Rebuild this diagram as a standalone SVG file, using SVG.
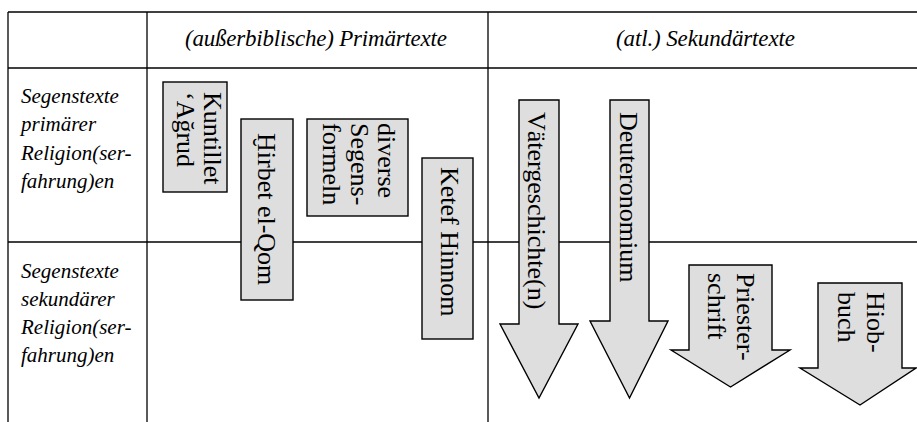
<svg xmlns="http://www.w3.org/2000/svg" width="917" height="422" viewBox="0 0 917 422">
<style>
.grid line{stroke:#000;stroke-width:1.3}
.hd{font-family:"Liberation Serif",serif;font-style:italic;font-size:23px;fill:#000}
.lb{font-family:"Liberation Serif",serif;font-style:italic;font-size:21px;fill:#000}
.shape{fill:#dedede;stroke:#000;stroke-width:1.4}
.bx{font-family:"Liberation Serif","DejaVu Serif",serif;font-size:26px;fill:#000}
</style>
<rect width="917" height="422" fill="#fff"/>
<g id="grid" class="grid">
<line x1="8" y1="12" x2="917" y2="12"/>
<line x1="8" y1="68" x2="917" y2="68"/>
<line x1="8" y1="242" x2="917" y2="242"/>
<line x1="8" y1="12" x2="8" y2="422"/>
<line x1="147" y1="12" x2="147" y2="422"/>
<line x1="488" y1="12" x2="488" y2="422"/>
</g>
<g id="headers">
<text class="hd" x="185" y="46" textLength="262">(außerbiblische) Primärtexte</text>
<text class="hd" x="616" y="46" textLength="179">(atl.) Sekundärtexte</text>
</g>
<g id="row1">
<text class="lb" x="21" y="103">Segenstexte</text>
<text class="lb" x="21" y="131">primärer</text>
<text class="lb" x="21" y="160">Religion(ser-</text>
<text class="lb" x="21" y="188">fahrung)en</text>
</g>
<g id="row2">
<text class="lb" x="21" y="278">Segenstexte</text>
<text class="lb" x="21" y="306">sekundärer</text>
<text class="lb" x="21" y="334">Religion(ser-</text>
<text class="lb" x="21" y="362">fahrung)en</text>
</g>
<g id="kuntillet">
<rect class="shape" x="163" y="82" width="64" height="110"/>
<text class="bx" transform="translate(204,92) rotate(90)"><tspan x="0" y="0">Kuntillet</tspan><tspan x="0" y="27">‘Ağrud</tspan></text>
</g>
<g id="hirbet">
<rect class="shape" x="241" y="119" width="52" height="181"/>
<text class="bx" transform="translate(258,133) rotate(90)">Ḫirbet el-Qom</text>
</g>
<g id="segensformeln">
<rect class="shape" x="307" y="119" width="101" height="97"/>
<text class="bx" transform="translate(378,123) rotate(90)"><tspan x="0" y="0">diverse</tspan><tspan x="0" y="27.5">Segens-</tspan><tspan x="0" y="55">formeln</tspan></text>
</g>
<g id="ketef">
<rect class="shape" x="422" y="158" width="51" height="181"/>
<text class="bx" transform="translate(441,167) rotate(90)">Ketef Hinnom</text>
</g>
<g id="vaeter">
<polygon class="shape" points="519,100 559,100 559,324 578,324 539,398 500,324 519,324"/>
<text class="bx" transform="translate(528,112) rotate(90)">Vätergeschichte(n)</text>
</g>
<g id="deuteronomium">
<polygon class="shape" points="610,100 649,100 649,321 668,321 629.5,398 590,321 610,321"/>
<text class="bx" transform="translate(620,112) rotate(90)">Deuteronomium</text>
</g>
<g id="priesterschrift">
<polygon class="shape" points="689,265 772,265 772,350 790,350 730.5,387 671,350 689,350"/>
<text class="bx" transform="translate(737,273) rotate(90)"><tspan x="0" y="0">Priester-</tspan><tspan x="0" y="29">schrift</tspan></text>
</g>
<g id="hiobbuch">
<polygon class="shape" points="818,283 902,283 902,368 916,368 860,405 800,368 818,368"/>
<text class="bx" transform="translate(867,292) rotate(90)"><tspan x="0" y="0">Hiob-</tspan><tspan x="0" y="29">buch</tspan></text>
</g>
</svg>
